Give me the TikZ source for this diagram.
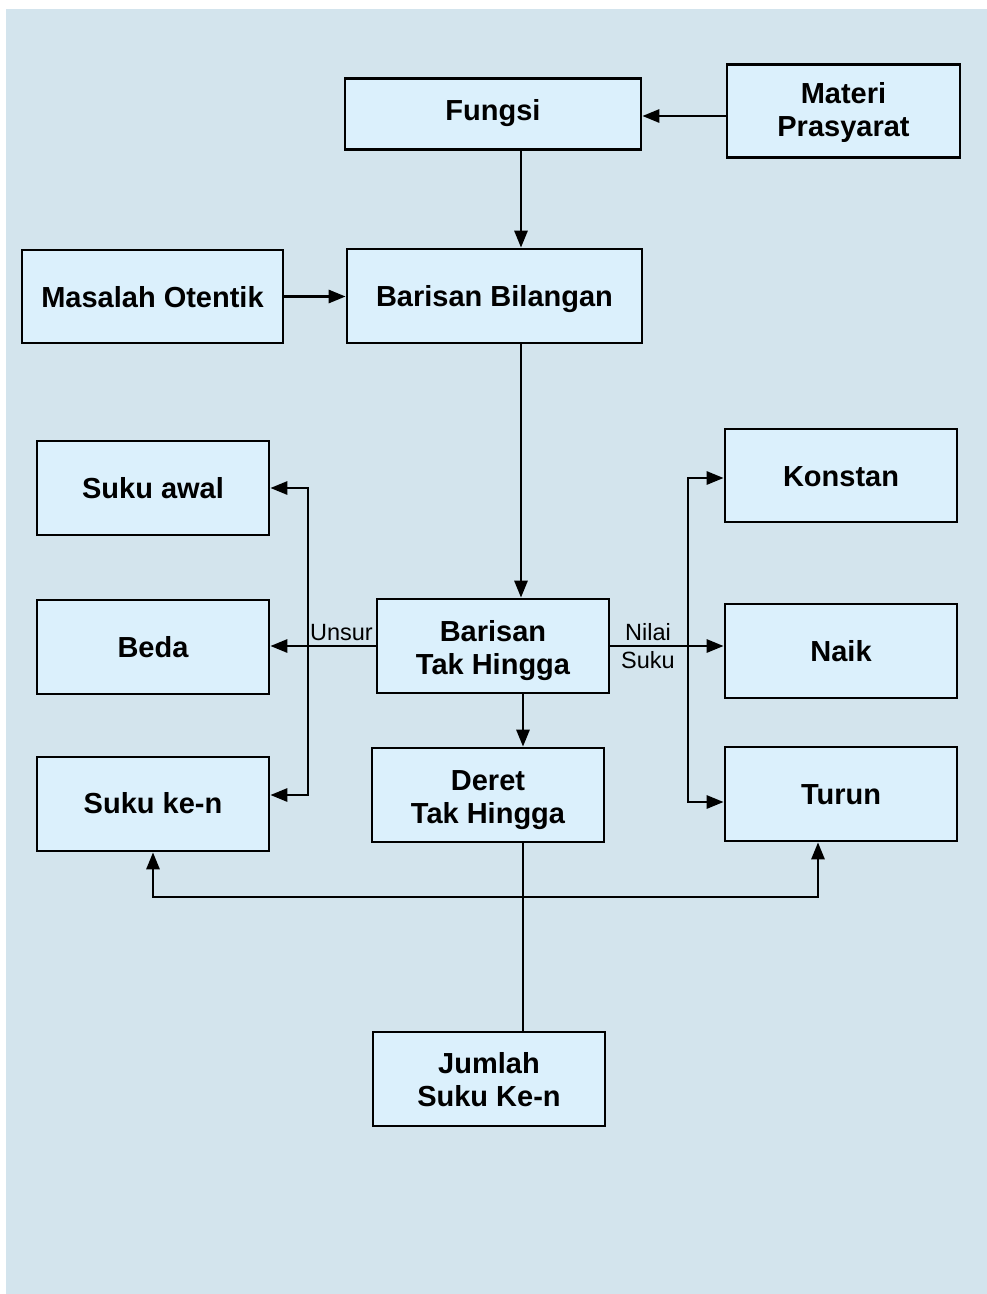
\documentclass[tikz,border=0pt]{standalone}
\usepackage{fontspec}
\setmainfont{Liberation Sans}
\usetikzlibrary{arrows.meta}
\definecolor{bgc}{RGB}{211,228,237}
\definecolor{boxc}{RGB}{219,240,252}
\begin{document}
\begin{tikzpicture}[x=1pt,y=-1pt,
  box/.style={draw=black,line width=2.7pt,fill=boxc,inner sep=0pt,align=center,
    font=\fontsize{29}{33}\selectfont\bfseries,text height=21pt,text depth=0pt},
  two/.style={text height=56pt,text depth=0pt},
  arr/.style={line width=2.8pt,-{Triangle[length=17pt,width=13pt]}},
  dbl/.style={line width=2.8pt,{Triangle[length=17pt,width=13pt]}-{Triangle[length=17pt,width=13pt]}},
  ln/.style={line width=2.8pt},
  lab/.style={font=\fontsize{23.5}{28}\selectfont,inner sep=0pt,align=center}]
\useasboundingbox (0,0) rectangle (987,1294);
\fill[bgc] (6,9) rectangle (987,1294);
% nodes
\node[box,minimum width=296pt,minimum height=71pt,text depth=9pt] (fungsi) at (493,114) {Fungsi};
\node[box,two,text height=51pt,minimum width=233pt,minimum height=93pt] (materi) at (843.5,111) {Materi\\Prasyarat};
\node[box,minimum width=261pt,minimum height=93pt] (masalah) at (152.5,296.5) {Masalah Otentik};
\node[box,minimum width=295pt,minimum height=94pt] (bb) at (494.5,296) {Barisan Bilangan};
\node[box,two,text height=57pt,minimum width=232pt,minimum height=94pt] (bth) at (493,646) {Barisan\\Tak Hingga};
\node[box,minimum width=232pt,minimum height=94pt] (sa) at (153,488) {Suku awal};
\node[box,minimum width=232pt,minimum height=94pt] (beda) at (153,647) {Beda};
\node[box,text depth=2pt,minimum width=232pt,minimum height=94pt] (sk) at (153,804) {Suku ke-n};
\node[box,minimum width=232pt,minimum height=93pt] (konstan) at (841,475.5) {Konstan};
\node[box,minimum width=232pt,minimum height=94pt] (naik) at (841,651) {Naik};
\node[box,minimum width=232pt,minimum height=94pt] (turun) at (841,794) {Turun};
\node[box,two,minimum width=232pt,minimum height=94pt] (deret) at (488,795) {Deret\\Tak Hingga};
\node[box,two,text height=55pt,minimum width=232pt,minimum height=94pt] (jumlah) at (489,1079) {Jumlah\\Suku Ke-n};
% helper coordinates
\coordinate (xa) at (521,0);
\coordinate (ya) at (0,116);
\coordinate (xd) at (523,0);
\coordinate (yl1) at (308,488);
\coordinate (yl2) at (308,795);
\coordinate (yr1) at (688,478);
\coordinate (yr2) at (688,802);
\coordinate (hb) at (523,897);
\coordinate (xsk) at (153,0);
\coordinate (xtu) at (818,0);
% connectors
\draw[arr] (materi.west |- ya) -- (fungsi.east |- ya);
\draw[arr] (fungsi.south -| xa) -- (bb.north -| xa);
\draw[arr] (masalah.east) -- (bb.west |- masalah.east);
\draw[arr] (bb.south -| xa) -- (bth.north -| xa);
\draw[arr] (bth.west) -- (beda.east |- bth.west);
\draw[arr] (bth.east) -- (naik.west |- bth.east);
\draw[dbl] (sa.east |- yl1) -- (yl1) -- (yl2) -- (sk.east |- yl2);
\draw[dbl] (konstan.west |- yr1) -- (yr1) -- (yr2) -- (turun.west |- yr2);
\draw[arr] (bth.south -| xd) -- (deret.north -| xd);
\draw[ln] (deret.south -| xd) -- (jumlah.north -| xd);
\draw[dbl] (sk.south -| xsk) -- (xsk |- hb) -- (xtu |- hb) -- (turun.south -| xtu);
% labels
\node[lab,anchor=base east] (unsur) at (373,640) {Unsur};
\node[lab,anchor=base] (nilai) at (648,668) {Nilai\\Suku};
\end{tikzpicture}
\end{document}
